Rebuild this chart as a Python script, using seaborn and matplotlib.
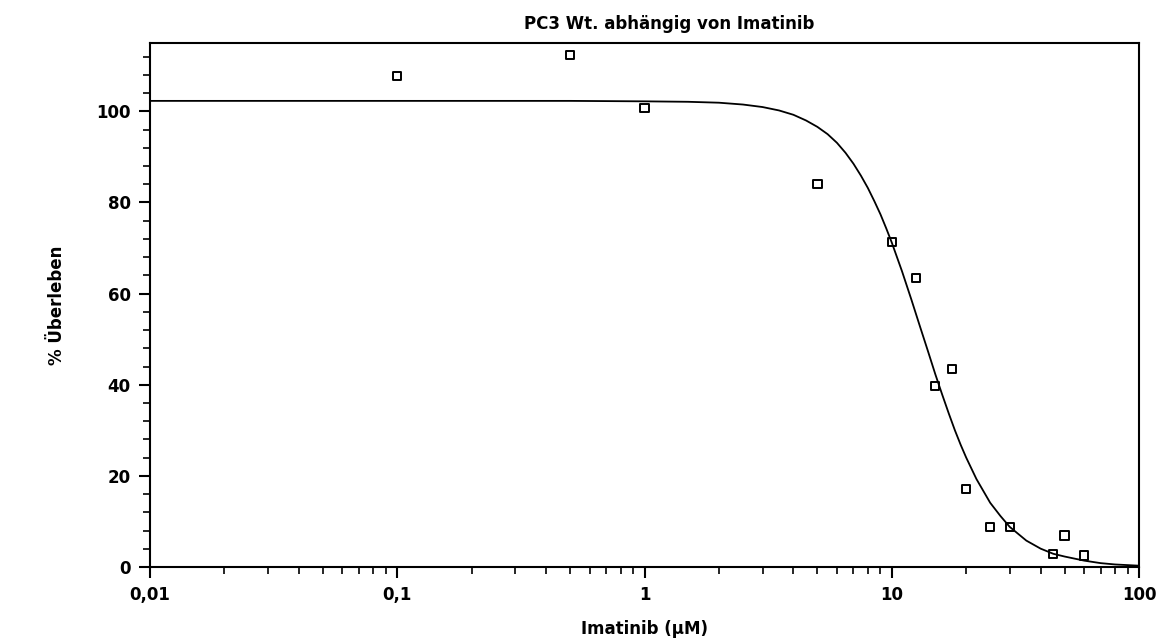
import matplotlib
matplotlib.use("Agg")
import matplotlib.pyplot as plt
import seaborn as sns
import pandas as pd
from matplotlib.ticker import MultipleLocator, LogLocator, NullFormatter

# Measured data points
conc_points = [0.1, 0.5, 1, 5, 10, 12.5, 15, 17.5, 20, 25, 30, 45, 50, 60]
survival_points = [107.7, 112.3, 100.7, 84.0, 71.3, 63.4, 39.7, 43.4, 17.1, 8.8, 8.8, 2.9, 6.9, 2.5]

# Fitted curve
curve_conc = [0.01, 0.1, 0.5, 1, 1.5, 2, 2.5, 3, 3.5, 4, 4.5, 5, 5.5, 6, 6.5, 7, 7.5, 8, 8.5, 9,
              9.5, 10, 11, 12, 13, 14, 15, 16, 17, 18, 19, 20, 22, 25, 27.5, 30, 35, 40, 45,
              50, 60, 70, 80, 100]
curve_survival = [102.3, 102.3, 102.3, 102.2, 102.1, 101.9, 101.5, 100.95, 100.2, 99.25, 98.0,
                  96.6, 95.0, 93.1, 90.9, 88.5, 85.9, 83.2, 80.3, 77.4, 74.3, 71.2, 64.9,
                  58.7, 52.8, 47.4, 42.3, 37.8, 33.7, 30.0, 26.8, 24.0, 19.3, 14.1, 11.2,
                  8.8, 5.8, 4.03, 2.9, 2.3, 1.4, 0.85, 0.56, 0.29]

x_ticks = [0.01, 0.1, 1, 10, 100]
x_tick_labels = ["0,01", "0,1", "1", "10", "100"]
y_ticks = [0, 20, 40, 60, 80, 100]

title = "PC3 Wt. abhängig von Imatinib"
xlabel = "Imatinib (µM)"
ylabel = "% Überleben"

sns.set_theme(style="ticks")
plt.rcParams["font.family"] = ["DejaVu Sans"]
plt.rcParams["font.weight"] = "bold"
plt.rcParams["text.color"] = "black"
plt.rcParams["axes.labelcolor"] = "black"

fig = plt.figure(figsize=(11.63, 6.42), dpi=100)
ax = fig.add_axes([0.129, 0.1168, 0.8504, 0.8162])

curve_df = pd.DataFrame({"x": curve_conc, "y": curve_survival})
pts_df = pd.DataFrame({"x": conc_points, "y": survival_points})

sns.lineplot(data=curve_df, x="x", y="y", ax=ax, color="black", linewidth=1.3)
sns.scatterplot(data=pts_df, x="x", y="y", ax=ax, marker="s", s=36,
                facecolor="none", edgecolor="black", linewidth=1.4, zorder=3)

ax.set_xscale("log")
ax.set_xlim(0.01, 100)
ax.set_ylim(0, 115)

ax.set_xticks(x_ticks)
ax.set_xticklabels(x_tick_labels)
ax.xaxis.set_minor_locator(LogLocator(base=10, subs=range(2, 10), numticks=20))
ax.xaxis.set_minor_formatter(NullFormatter())
ax.set_yticks(y_ticks)
ax.yaxis.set_minor_locator(MultipleLocator(4))

for s in ax.spines.values():
    s.set_visible(True)
    s.set_linewidth(1.5)
    s.set_color("black")

ax.tick_params(axis="both", which="major", direction="out", length=8, width=1.5,
               labelsize=12, colors="black", pad=6)
ax.tick_params(axis="both", which="minor", direction="out", length=5, width=1.2,
               colors="black")
for lab in ax.get_xticklabels() + ax.get_yticklabels():
    lab.set_fontweight("bold")

ax.set_xlabel(xlabel, fontsize=12, fontweight="bold", labelpad=11, color="black")
ax.set_ylabel(ylabel, fontsize=12, fontweight="bold", labelpad=22, color="black")
ax.set_title(title, fontsize=12, fontweight="bold", x=0.525, pad=10, color="black")

fig.savefig("out.png", dpi=100, facecolor="white")
